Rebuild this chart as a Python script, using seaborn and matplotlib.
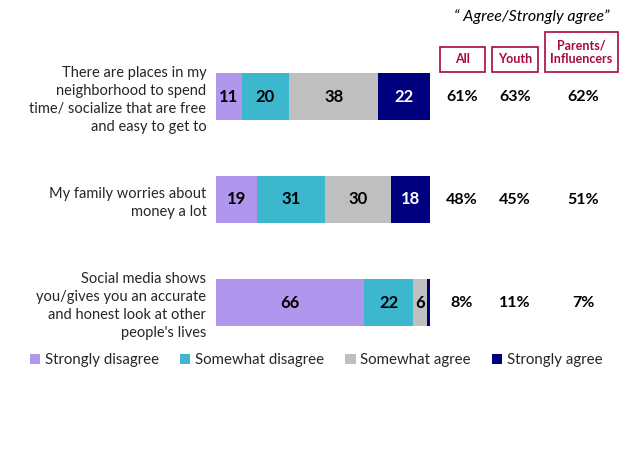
import matplotlib
matplotlib.use("Agg")
import matplotlib.pyplot as plt
import seaborn as sns
import pandas as pd
import numpy as np
from matplotlib.patches import Rectangle, Patch

sns.set_style("white")
plt.rcParams['font.family'] = ['Lato', 'DejaVu Sans']

statements = [
    "There are places in my\nneighborhood to spend\ntime/ socialize that are free\nand easy to get to",
    "My family worries about\nmoney a lot",
    "Social media shows\nyou/gives you an accurate\nand honest look at other\npeople's lives",
]
series_names = ["Strongly disagree", "Somewhat disagree", "Somewhat agree", "Strongly agree"]
strongly_disagree = [11, 19, 66]
somewhat_disagree = [20, 31, 22]
somewhat_agree = [38, 30, 6]
strongly_agree = [22, 18, 1.5]
pct_all = ["61%", "48%", "8%"]
pct_youth = ["63%", "45%", "11%"]
pct_parents = ["62%", "51%", "7%"]
colors = ["#B196EE", "#3DB7CE", "#BFBFBF", "#00007F"]
label_colors = ["black", "black", "black", "white"]

W, H = 624, 468
fig = plt.figure(figsize=(W / 100, H / 100), dpi=100)
ax = fig.add_axes([216 / W, 1 - 354 / H, 214 / W, 309 / H])

vals = np.array([strongly_disagree, somewhat_disagree, somewhat_agree, strongly_agree], dtype=float)
totals = vals.sum(axis=0)
norm = vals / totals * 100
cum = np.cumsum(norm, axis=0)

for i in reversed(range(4)):
    df = pd.DataFrame({"stmt": statements, "v": cum[i]})
    sns.barplot(data=df, y="stmt", x="v", orient="h", color=colors[i],
                width=0.46, ax=ax, saturation=1, edgecolor="none", linewidth=0)

for r in range(3):
    left = 0
    for i in range(4):
        w = norm[i, r]
        v = vals[i, r]
        if v >= 5:
            ax.text(left + w / 2, r, f"{int(v)}", ha="center", va="center",
                    fontsize=12, fontweight="bold", color=label_colors[i])
        left += w

ax.set_xlim(0, 100)
ax.set_ylim(2.5, -0.5)
ax.set_xlabel("")
ax.set_ylabel("")
ax.set_xticks([])
ax.tick_params(axis="y", length=0, pad=7)
ax.set_yticks(range(3))
ax.set_yticklabels(statements, fontsize=10.5, linespacing=1.35, ha="right")
for s in ax.spines.values():
    s.set_visible(False)

# Right columns
row_px = [97, 200, 303]
for r, yp in enumerate(row_px):
    for xp, col in zip([462, 515, 583], [pct_all, pct_youth, pct_parents]):
        fig.text(xp / W, 1 - yp / H, col[r], ha="center", va="center",
                 fontsize=11.5, fontweight="bold", color="black")

red = "#A6093D"
boxes = [(440, 47, 45, 25, "All", 59), (492, 47, 46, 25, "Youth", 59), (545, 32, 73, 40, "Parents/\nInfluencers", 52)]
for x0, y0, bw, bh, label, ty in boxes:
    fig.patches.append(Rectangle((x0 / W, 1 - (y0 + bh) / H), bw / W, bh / H,
                                 transform=fig.transFigure, fill=False,
                                 edgecolor=red, linewidth=1.2))
    fig.text((x0 + bw / 2) / W, 1 - ty / H, label, ha="center", va="center",
             fontsize=9, fontweight="bold", color=red, linespacing=1.2)

fig.text(532 / W, 1 - 17 / H, "\u201c Agree/Strongly agree\u201d", ha="center", va="center",
         fontsize=11.5, style="italic", color="black")

handles = [Patch(facecolor=c, edgecolor="none") for c in colors]
fig.legend(handles, series_names, loc="center", bbox_to_anchor=(316 / W, 1 - 360 / H),
           ncol=4, frameon=False, fontsize=10.8, handlelength=0.7, handleheight=0.7,
           handletextpad=0.3, columnspacing=1.4)

fig.savefig("out.png", dpi=100)
